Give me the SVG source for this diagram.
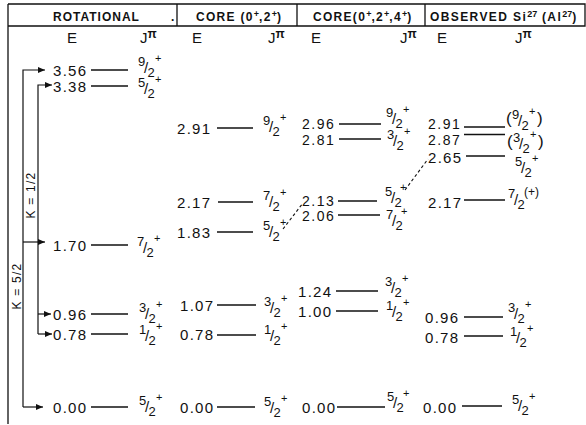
<svg xmlns="http://www.w3.org/2000/svg" width="586" height="425" viewBox="0 0 586 425">
<defs>
<style>
text{font-family:"Liberation Sans",Arial,sans-serif;fill:#111}
.hd{font-size:12px;font-weight:bold;letter-spacing:1px}
.hs{font-size:9px;font-weight:bold;letter-spacing:0}
.ej{font-size:15px}
.pi{font-size:12px;font-weight:bold}
.n{font-size:15px;letter-spacing:1.3px}
.nc{font-size:14px;letter-spacing:1.5px}
.f{font-size:13px}
.sl{font-size:15px}
.pl{font-size:11px}
.pa{font-size:17px}
.pp{font-size:12px}
.k{font-size:12px;letter-spacing:1.2px}
.lv{stroke:#111;stroke-width:1.3}
.fr{stroke:#111;stroke-width:1.3;fill:none}
.cn{stroke:#111;stroke-width:1.2;fill:none}
.ds{stroke:#111;stroke-width:1.1;stroke-dasharray:3 2.5;fill:none}
</style>
<marker id="ah" markerWidth="8" markerHeight="8" refX="7" refY="4" orient="auto" markerUnits="userSpaceOnUse"><path d="M0,1 L7,4 L0,7 Z" fill="#111"/></marker>
</defs>
<rect width="586" height="425" fill="#fff"/>

<g id="header">
<path class="fr" d="M8,4 H585 V26 H8 M177,4 V26 M297,4 V26 M425,4 V26 M8,4 V424"/>
<text class="hd" x="53" y="21">ROTATIONAL</text>
<text class="hd" x="171" y="21">.</text>
<text class="hd" x="196" y="21" style="letter-spacing:1.3px">CORE (0<tspan class="hs" dy="-4">+</tspan><tspan dy="4">,2</tspan><tspan class="hs" dy="-4">+</tspan><tspan dy="4">)</tspan></text>
<text class="hd" x="313" y="21" style="letter-spacing:1.3px">CORE(0<tspan class="hs" dy="-4">+</tspan><tspan dy="4">,2</tspan><tspan class="hs" dy="-4">+</tspan><tspan dy="4">,4</tspan><tspan class="hs" dy="-4">+</tspan><tspan dy="4">)</tspan></text>
<text class="hd" x="430" y="21" style="letter-spacing:1.4px">OBSERVED Si<tspan class="hs" dy="-4">27</tspan><tspan dy="4"> (Al</tspan><tspan class="hs" dy="-4">27</tspan><tspan dy="4">)</tspan></text>
<text class="ej" x="67" y="43">E</text>
<text class="ej" x="140" y="43">J<tspan class="pi" dy="-5">π</tspan></text>
<text class="ej" x="192" y="43">E</text>
<text class="ej" x="268" y="43">J<tspan class="pi" dy="-5">π</tspan></text>
<text class="ej" x="311" y="43">E</text>
<text class="ej" x="400" y="43">J<tspan class="pi" dy="-5">π</tspan></text>
<text class="ej" x="437" y="43">E</text>
<text class="ej" x="515" y="43">J<tspan class="pi" dy="-5">π</tspan></text>
</g>

<g id="connectors">
<path class="cn" d="M23,407 V70 H45" marker-end="url(#ah)"/>
<path class="cn" d="M23,407 H43" marker-end="url(#ah)"/>
<path class="cn" d="M23,242 H45" marker-end="url(#ah)"/>
<path class="cn" d="M38,334 V85 H52" marker-end="url(#ah)"/>
<path class="cn" d="M38,314 H51" marker-end="url(#ah)"/>
<path class="cn" d="M38,334 H52" marker-end="url(#ah)"/>
<path class="ds" d="M283,229 L303,203"/>
<path class="ds" d="M405,190 L428,159"/>
<text class="k" transform="translate(35,195) rotate(-90)" text-anchor="middle">K = 1/2</text>
<text class="k" transform="translate(21,286) rotate(-90)" text-anchor="middle">K = 5/2</text>
</g>

<g id="rot-356"><text class="n" x="53" y="76">3.56</text><line class="lv" x1="91" y1="70" x2="128" y2="70"/>
<g transform="translate(138,67)"><text class="f"><tspan x="0" y="-1">9</tspan><tspan class="sl" x="6" y="6">/</tspan><tspan x="9.5" y="10">2</tspan><tspan class="pl" x="17" y="-5">+</tspan></text></g></g>
<g id="rot-338"><text class="n" x="53" y="91.5">3.38</text><line class="lv" x1="91" y1="86" x2="128" y2="86"/>
<g transform="translate(138,88)"><text class="f"><tspan x="0" y="-1">5</tspan><tspan class="sl" x="6" y="6">/</tspan><tspan x="9.5" y="10">2</tspan><tspan class="pl" x="17" y="-5">+</tspan></text></g></g>
<g id="rot-170"><text class="n" x="53" y="250.5">1.70</text><line class="lv" x1="91" y1="245" x2="128" y2="245"/>
<g transform="translate(137,247)"><text class="f"><tspan x="0" y="-1">7</tspan><tspan class="sl" x="6" y="6">/</tspan><tspan x="9.5" y="10">2</tspan><tspan class="pl" x="17" y="-5">+</tspan></text></g></g>
<g id="rot-096"><text class="n" x="53" y="319.5">0.96</text><line class="lv" x1="91" y1="314" x2="128" y2="314"/>
<g transform="translate(139,313)"><text class="f"><tspan x="0" y="-1">3</tspan><tspan class="sl" x="6" y="6">/</tspan><tspan x="9.5" y="10">2</tspan><tspan class="pl" x="17" y="-5">+</tspan></text></g></g>
<g id="rot-078"><text class="n" x="53" y="339.5">0.78</text><line class="lv" x1="91" y1="334" x2="128" y2="334"/>
<g transform="translate(139,335)"><text class="f"><tspan x="0" y="-1">1</tspan><tspan class="sl" x="6" y="6">/</tspan><tspan x="9.5" y="10">2</tspan><tspan class="pl" x="17" y="-5">+</tspan></text></g></g>
<g id="rot-000"><text class="n" x="53" y="412.5">0.00</text><line class="lv" x1="91" y1="407" x2="128" y2="407"/>
<g transform="translate(139,406)"><text class="f"><tspan x="0" y="-1">5</tspan><tspan class="sl" x="6" y="6">/</tspan><tspan x="9.5" y="10">2</tspan><tspan class="pl" x="17" y="-5">+</tspan></text></g></g>

<g id="c2-291"><text class="n" x="177" y="133.5">2.91</text><line class="lv" x1="217" y1="128" x2="253" y2="128"/>
<g transform="translate(263,126)"><text class="f"><tspan x="0" y="-1">9</tspan><tspan class="sl" x="6" y="6">/</tspan><tspan x="9.5" y="10">2</tspan><tspan class="pl" x="17" y="-5">+</tspan></text></g></g>
<g id="c2-217"><text class="n" x="177" y="207.5">2.17</text><line class="lv" x1="218" y1="202" x2="253" y2="202"/>
<g transform="translate(263,201)"><text class="f"><tspan x="0" y="-1">7</tspan><tspan class="sl" x="6" y="6">/</tspan><tspan x="9.5" y="10">2</tspan><tspan class="pl" x="17" y="-5">+</tspan></text></g></g>
<g id="c2-183"><text class="n" x="177" y="237.5">1.83</text><line class="lv" x1="217" y1="232" x2="253" y2="232"/>
<g transform="translate(263,231)"><text class="f"><tspan x="0" y="-1">5</tspan><tspan class="sl" x="6" y="6">/</tspan><tspan x="9.5" y="10">2</tspan><tspan class="pl" x="17" y="-5">+</tspan></text></g></g>
<g id="c2-107"><text class="n" x="180" y="311">1.07</text><line class="lv" x1="217" y1="305" x2="256" y2="305"/>
<g transform="translate(264,307)"><text class="f"><tspan x="0" y="-1">3</tspan><tspan class="sl" x="6" y="6">/</tspan><tspan x="9.5" y="10">2</tspan><tspan class="pl" x="17" y="-5">+</tspan></text></g></g>
<g id="c2-078"><text class="n" x="180" y="339.5">0.78</text><line class="lv" x1="217" y1="335" x2="256" y2="335"/>
<g transform="translate(264,335)"><text class="f"><tspan x="0" y="-1">1</tspan><tspan class="sl" x="6" y="6">/</tspan><tspan x="9.5" y="10">2</tspan><tspan class="pl" x="17" y="-5">+</tspan></text></g></g>
<g id="c2-000"><text class="n" x="180" y="412.5">0.00</text><line class="lv" x1="217" y1="407" x2="255" y2="407"/>
<g transform="translate(264,407)"><text class="f"><tspan x="0" y="-1">5</tspan><tspan class="sl" x="6" y="6">/</tspan><tspan x="9.5" y="10">2</tspan><tspan class="pl" x="17" y="-5">+</tspan></text></g></g>

<g id="c3-296"><text class="nc" x="302" y="129">2.96</text><line class="lv" x1="339" y1="124" x2="381" y2="124"/>
<g transform="translate(386,118)"><text class="f"><tspan x="0" y="-1">9</tspan><tspan class="sl" x="6" y="6">/</tspan><tspan x="9.5" y="10">2</tspan><tspan class="pl" x="17" y="-5">+</tspan></text></g></g>
<g id="c3-281"><text class="nc" x="302" y="144.5">2.81</text><line class="lv" x1="339" y1="139" x2="381" y2="139"/>
<g transform="translate(387,140)"><text class="f"><tspan x="0" y="-1">3</tspan><tspan class="sl" x="6" y="6">/</tspan><tspan x="9.5" y="10">2</tspan><tspan class="pl" x="17" y="-5">+</tspan></text></g></g>
<g id="c3-213"><text class="nc" x="302" y="205.5">2.13</text><line class="lv" x1="338" y1="201" x2="377" y2="201"/>
<g transform="translate(385,197)"><text class="f"><tspan x="0" y="-1">5</tspan><tspan class="sl" x="6" y="6">/</tspan><tspan x="9.5" y="10">2</tspan><tspan class="pl" x="15" y="-6">+</tspan></text></g></g>
<g id="c3-206"><text class="nc" x="302" y="221">2.06</text><line class="lv" x1="338" y1="215" x2="380" y2="215"/>
<g transform="translate(386,220)"><text class="f"><tspan x="0" y="-1">7</tspan><tspan class="sl" x="6" y="6">/</tspan><tspan x="9.5" y="10">2</tspan><tspan class="pl" x="15" y="-5">+</tspan></text></g></g>
<g id="c3-124"><text class="n" x="298" y="297">1.24</text><line class="lv" x1="336" y1="291" x2="378" y2="291"/>
<g transform="translate(385,287)"><text class="f"><tspan x="0" y="-1">3</tspan><tspan class="sl" x="6" y="6">/</tspan><tspan x="9.5" y="10">2</tspan><tspan class="pl" x="17" y="-5">+</tspan></text></g></g>
<g id="c3-100"><text class="n" x="298" y="316.5">1.00</text><line class="lv" x1="336" y1="311" x2="378" y2="311"/>
<g transform="translate(386,311)"><text class="f"><tspan x="0" y="-1">1</tspan><tspan class="sl" x="6" y="6">/</tspan><tspan x="9.5" y="10">2</tspan><tspan class="pl" x="17" y="-5">+</tspan></text></g></g>
<g id="c3-000"><text class="n" x="302" y="412.5">0.00</text><line class="lv" x1="337" y1="407" x2="385" y2="407"/>
<g transform="translate(387,402)"><text class="f"><tspan x="0" y="-1">5</tspan><tspan class="sl" x="6" y="6">/</tspan><tspan x="9.5" y="10">2</tspan><tspan class="pl" x="16" y="-5">+</tspan></text></g></g>

<g id="obs-291"><text class="nc" x="428" y="129">2.91</text><line class="lv" x1="464" y1="127" x2="505" y2="127"/>
<g transform="translate(506,120)"><text><tspan class="pa" x="0" y="4">(</tspan><tspan class="f" x="6" y="-1">9</tspan><tspan class="sl" x="12" y="6">/</tspan><tspan class="f" x="15.5" y="10">2</tspan><tspan class="pl" x="23" y="-5">+</tspan><tspan class="pa" x="31" y="4">)</tspan></text></g></g>
<g id="obs-287"><text class="nc" x="428" y="144.5">2.87</text><line class="lv" x1="464" y1="134.5" x2="505" y2="134.5"/>
<g transform="translate(507,143)"><text><tspan class="pa" x="0" y="4">(</tspan><tspan class="f" x="6" y="-1">3</tspan><tspan class="sl" x="12" y="6">/</tspan><tspan class="f" x="15.5" y="10">2</tspan><tspan class="pl" x="23" y="-5">+</tspan><tspan class="pa" x="31" y="4">)</tspan></text></g></g>
<g id="obs-265"><text class="n" x="428" y="162.5">2.65</text><line class="lv" x1="466" y1="156" x2="505" y2="156"/>
<g transform="translate(515,167)"><text class="f"><tspan x="0" y="-1">5</tspan><tspan class="sl" x="6" y="6">/</tspan><tspan x="9.5" y="10">2</tspan><tspan class="pl" x="17" y="-5">+</tspan></text></g></g>
<g id="obs-217"><text class="n" x="428" y="207.5">2.17</text><line class="lv" x1="464" y1="200" x2="505" y2="200"/>
<g transform="translate(508,199)"><text class="f"><tspan x="0" y="-1">7</tspan><tspan class="sl" x="6" y="6">/</tspan><tspan x="9.5" y="10">2</tspan><tspan class="pp" x="16" y="-3">(+)</tspan></text></g></g>
<g id="obs-096"><text class="n" x="425" y="322.5">0.96</text><line class="lv" x1="464" y1="317" x2="503" y2="317"/>
<g transform="translate(508,313)"><text class="f"><tspan x="0" y="-1">3</tspan><tspan class="sl" x="6" y="6">/</tspan><tspan x="9.5" y="10">2</tspan><tspan class="pl" x="17" y="-5">+</tspan></text></g></g>
<g id="obs-078"><text class="n" x="425" y="342.5">0.78</text><line class="lv" x1="464" y1="336" x2="503" y2="336"/>
<g transform="translate(510,337)"><text class="f"><tspan x="0" y="-1">1</tspan><tspan class="sl" x="6" y="6">/</tspan><tspan x="9.5" y="10">2</tspan><tspan class="pl" x="17" y="-5">+</tspan></text></g></g>
<g id="obs-000"><text class="n" x="423" y="412.5">0.00</text><line class="lv" x1="462" y1="406" x2="502" y2="406"/>
<g transform="translate(512,405)"><text class="f"><tspan x="0" y="-1">5</tspan><tspan class="sl" x="6" y="6">/</tspan><tspan x="9.5" y="10">2</tspan><tspan class="pl" x="17" y="-5">+</tspan></text></g></g>
</svg>
